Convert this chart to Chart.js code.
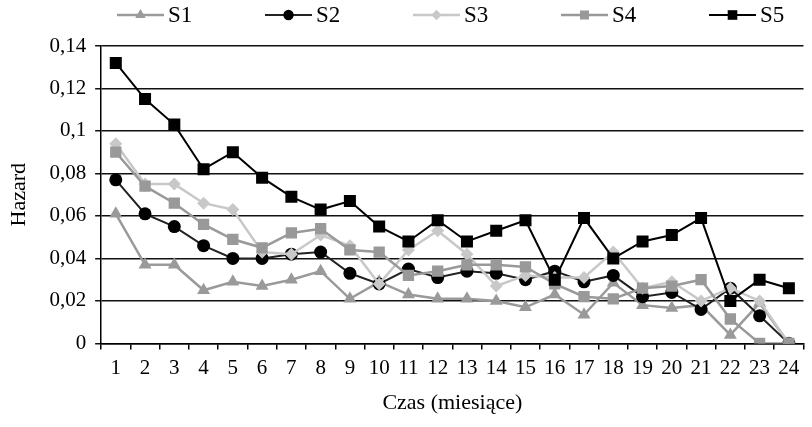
<!DOCTYPE html>
<html>
<head>
<meta charset="utf-8">
<script src="https://cdn.jsdelivr.net/npm/chart.js@4"></script>
<style>
  html, body { margin: 0; padding: 0; background: #fff; }
  #wrap { width: 812px; height: 427px; }
</style>
</head>
<body>
<div id="wrap"><canvas id="chart"></canvas></div>
<script>
// miesiace 1..24
const months = ['1','2','3','4','5','6','7','8','9','10','11','12','13','14','15','16','17','18','19','20','21','22','23','24'];

const s1 = [0.061,0.037,0.037,0.025,0.029,0.027,0.030,0.034,0.021,0.029,0.023,0.021,0.021,0.020,0.017,0.023,0.0135,0.0285,0.018,0.0167,0.018,0.004,0.019,0];
const s2 = [0.077,0.061,0.055,0.046,0.040,0.040,0.042,0.043,0.033,0.028,0.035,0.031,0.034,0.033,0.030,0.034,0.029,0.032,0.022,0.024,0.016,0.026,0.013,0];
const s3 = [0.094,0.075,0.075,0.066,0.063,0.043,0.042,0.051,0.046,0.028,0.044,0.053,0.042,0.027,0.032,0.031,0.031,0.043,0.026,0.029,0.020,0.026,0.020,0];
const s4 = [0.090,0.074,0.066,0.056,0.049,0.045,0.052,0.054,0.044,0.043,0.032,0.034,0.037,0.037,0.036,0.028,0.022,0.021,0.026,0.027,0.030,0.0115,0,0];
const s5 = [0.132,0.115,0.103,0.082,0.090,0.078,0.069,0.063,0.067,0.055,0.048,0.058,0.048,0.053,0.058,0.030,0.059,0.040,0.048,0.051,0.059,0.020,0.030,0.026];

const seriesNames = ['S1','S2','S3','S4','S5'];
const FONT = "'Liberation Serif', 'DejaVu Serif', serif";

const styles = [
    {line: '#9a9a9a', fill: '#9a9a9a', shape: 'triangle', r: 7.5, w: 2.5, order: 5},
    {line: '#222222', fill: '#000000', shape: 'circle',   r: 6.5, w: 2,   order: 4},
    {line: '#c8c8c8', fill: '#c8c8c8', shape: 'rectRot',  r: 6.5, w: 2.5, order: 3},
    {line: '#999999', fill: '#999999', shape: 'rect',     r: 8,   w: 2.5, order: 2},
    {line: '#000000', fill: '#000000', shape: 'rect',     r: 8.5, w: 2,   order: 1}
];

const values = [s1, s2, s3, s4, s5];

const datasets = values.map((v, i)=>{
    const st = styles[i];
    return {
        label: seriesNames[i],
        data: v,
        borderColor: st.line,
        backgroundColor: st.fill,
        borderWidth: st.w,
        pointStyle: st.shape,
        pointRadius: st.r,
        pointHoverRadius: st.r,
        pointBackgroundColor: st.fill,
        pointBorderColor: st.fill,
        pointBorderWidth: 0,
        tension: 0,
        order: st.order
    };
});

// legenda rysowana recznie: linia + znacznik jak w Excelu
function marker(ctx, shape, x, y, r){
    ctx.beginPath();
    if(shape === 'circle'){
        ctx.arc(x, y, r, 0, Math.PI*2);
    } else if(shape === 'rect'){
        const s = r*Math.SQRT1_2;
        ctx.rect(x-s, y-s, 2*s, 2*s);
    } else if(shape === 'rectRot'){
        ctx.moveTo(x, y-r); ctx.lineTo(x+r, y); ctx.lineTo(x, y+r); ctx.lineTo(x-r, y);
        ctx.closePath();
    } else {
        ctx.moveTo(x, y-r); ctx.lineTo(x+r*0.87, y+r*0.5); ctx.lineTo(x-r*0.87, y+r*0.5);
        ctx.closePath();
    }
    ctx.fill();
}

const legendPlugin = {
    id: 'excelLegend',
    afterDraw(chart){
        const ctx = chart.ctx;
        const step = 148, lineLen = 47, y = 15;
        const start = 117;
        ctx.save();
        ctx.font = '23px ' + FONT;
        ctx.textBaseline = 'middle';
        seriesNames.forEach((name, i)=>{
            const st = styles[i];
            const x0 = start + i*step;
            ctx.strokeStyle = st.line;
            ctx.lineWidth = st.w;
            ctx.beginPath();
            ctx.moveTo(x0, y); ctx.lineTo(x0+lineLen, y);
            ctx.stroke();
            ctx.fillStyle = st.fill;
            marker(ctx, st.shape, x0+lineLen/2, y, st.r*0.8);
            ctx.fillStyle = '#000';
            ctx.fillText(name, x0+lineLen+4, y+1);
        });
        ctx.restore();
    }
};

const chart = new Chart(document.getElementById('chart'), {
    type: 'line',
    data: { labels: months, datasets: datasets },
    plugins: [legendPlugin],
    options: {
        responsive: true,
        maintainAspectRatio: false,
        animation: false,
        layout: { padding: { top: 46, right: -7, left: 2, bottom: 11 } },
        plugins: {
            legend: { display: false },
            tooltip: { enabled: false }
        },
        scales: {
            x: {
                offset: true,
                grid: {
                    display: true,
                    offset: true,
                    drawOnChartArea: false,
                    drawTicks: true,
                    tickLength: 6,
                    color: '#000',
                    lineWidth: 1.5
                },
                border: { display: true, color: '#000', width: 1.5 },
                ticks: { color: '#000', font: { family: FONT, size: 21 }, padding: 6, maxRotation: 0, autoSkip: false },
                title: { display: true, text: 'Czas (miesiące)', color: '#000', font: { family: FONT, size: 22 }, padding: { top: 3, bottom: 0 } }
            },
            y: {
                min: 0,
                max: 0.14,
                ticks: {
                    stepSize: 0.02,
                    color: '#000',
                    padding: 9,
                    font: { family: FONT, size: 21 },
                    callback: v => String(Math.round(v*100)/100).replace('.', ',')
                },
                grid: { color: '#111', lineWidth: 1.5, tickLength: 6 },
                border: { display: true, color: '#000', width: 1.5 },
                title: { display: true, text: 'Hazard', color: '#000', font: { family: FONT, size: 22 }, padding: { bottom: 8 } }
            }
        }
    }
});
</script>
</body>
</html>
